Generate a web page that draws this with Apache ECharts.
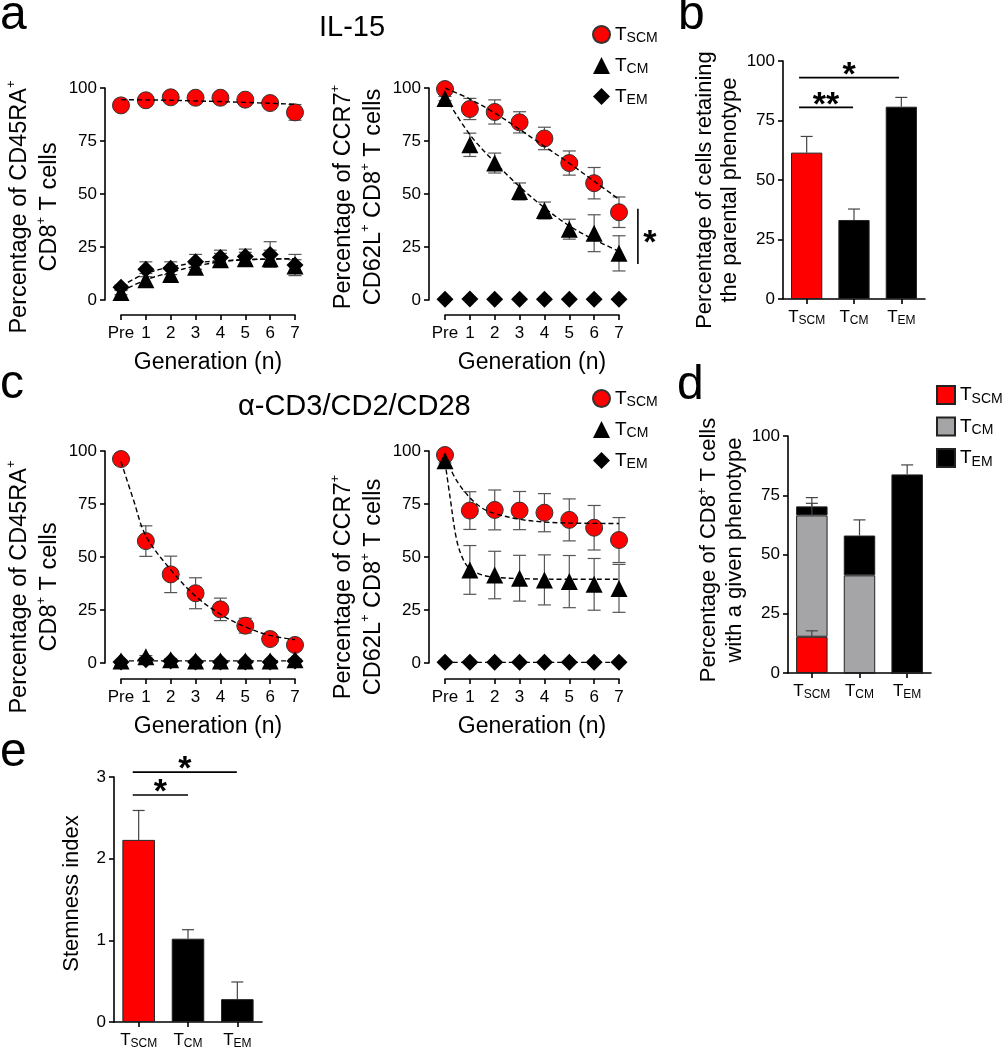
<!DOCTYPE html>
<html>
<head>
<meta charset="utf-8">
<title>Tscm phenotype</title>
<script src="https://cdn.jsdelivr.net/npm/echarts@6.0.0/dist/echarts.min.js"></script>
<style>
html, body { margin: 0; padding: 0; background: #fff; }
#main { width: 1008px; height: 1050px; }
</style>
</head>
<body>
<div id="main"></div>
<script>
var FONT = '"Liberation Sans", Arial, sans-serif';

// generation ticks
var gens = ['Pre', '1', '2', '3', '4', '5', '6', '7'];

// a, IL-15, CD45RA+ (left)
var aL_scm = [91.8, 94.2, 95.6, 95.4, 95.4, 94.5, 92.9, 88.5];
var aL_scmErr = [1, 1, 1, 1, 1, 1.2, 1.5, 3.7];
var aL_cm = [3.5, 9.5, 12, 15.5, 19, 19.5, 19.5, 16];
var aL_cmErr = [1, 3, 3, 3, 3, 3, 4, 3];
var aL_em = [6, 14.5, 15, 18, 20, 20.5, 21.5, 16.5];
var aL_emErr = [1, 3.5, 3, 3.5, 3.5, 3.5, 6, 5];
var aL_scmFit = [[0, 94.5], [1, 94.4], [2, 94.2], [3, 93.9], [4, 93.6], [5, 93.2], [6, 92.8], [7, 92.3]];
var aL_cmFit = [[0, 4], [1, 9.5], [2, 13], [3, 16], [4, 18], [5, 19], [6, 19.3], [7, 19.5]];
var aL_emFit = [[0, 6.5], [1, 12.5], [2, 15.5], [3, 17.5], [4, 18.5], [5, 19], [6, 19.3], [7, 19.5]];

// a, IL-15, CCR7+ CD62L+ (right)
var aR_scm = [99.5, 90.1, 88.7, 83.8, 76.2, 64.6, 55.1, 41.4];
var aR_scmErr = [0.5, 5, 5.7, 5, 5.3, 5.7, 7.4, 7.2];
var aR_cm = [95, 73.2, 64.6, 51.2, 42.2, 33.4, 31.5, 22];
var aR_cmErr = [1, 5.5, 4.7, 4, 4, 4.7, 8.7, 8.3];
var aR_em = [0.3, 0.5, 0.3, 0.4, 0.3, 0.3, 0.3, 0.3];
var aR_emErr = [0, 0, 0, 0, 0, 0, 0, 0];
var aR_scmFit = [[0, 100], [1, 94.8], [2, 88.2], [3, 80.5], [4, 72.5], [5, 64.5], [6, 56], [7, 47.5]];
var aR_cmFit = [[0, 96], [1, 78], [2, 65], [3, 53.5], [4, 43.5], [5, 35], [6, 28.5], [7, 23]];
var aR_sig = [[7.76, 17, 43]];

// c, a-CD3/CD2/CD28, CD45RA+ (left)
var cL_scm = [96.2, 57.5, 41.8, 32.9, 25.3, 17.6, 11.3, 8.5];
var cL_scmErr = [0.5, 7.2, 8.6, 7.3, 5.3, 3.5, 1.5, 1];
var cL_cm = [1, 3, 1.5, 1, 1, 1, 1, 1.5];
var cL_cmErr = [0, 0.5, 0.5, 0, 0, 0, 0, 0.5];
var cL_em = [0.5, 1.5, 1, 0.5, 0.5, 0.5, 0.5, 1];
var cL_emErr = [0, 0, 0, 0, 0, 0, 0, 0];
var cL_scmFit = [[0, 95], [0.5, 77], [1, 60], [2, 44], [3, 31.5], [4, 23], [5, 17], [6, 13], [7, 11]];
var cL_cmFit = [[0, 1], [1, 1], [2, 1], [3, 1], [4, 1], [5, 1], [6, 1], [7, 1]];

// c, a-CD3/CD2/CD28, CCR7+ CD62L+ (right)
var cR_scm = [98.1, 71.9, 72.2, 71.9, 70.9, 67.5, 63.8, 58];
var cR_scmErr = [0.5, 8.9, 9.4, 9, 9, 9.9, 10.5, 10.6];
var cR_cm = [95.4, 43.9, 41.5, 40, 39.2, 38.4, 37.1, 35.2];
var cR_cmErr = [1, 11.5, 11.2, 10.8, 11.8, 12.3, 12.2, 11.3];
var cR_em = [0.3, 0.3, 0.3, 0.3, 0.3, 0.3, 0.3, 0.3];
var cR_emErr = [0, 0, 0, 0, 0, 0, 0, 0];
var cR_scmFit = [[0, 97], [0.47, 86], [1, 78], [1.5, 73], [2, 70.5], [3, 67.8], [4, 66.5], [5, 66], [7, 65.8]];
var cR_cmFit = [[0, 95], [0.2, 78.5], [0.47, 58], [0.74, 48.6], [1, 44.5], [1.5, 41.5], [2, 40.5], [3, 39.8], [5, 39.5], [7, 39.5]];
var cR_emFit = [[0, 0.3], [7, 0.3]];

// bar panels
var cats = ['TSCM', 'TCM', 'TEM'];
var subs = { TSCM: 'SCM', TCM: 'CM', TEM: 'EM', dSCM: 'SCM', dCM: 'CM', dEM: 'EM' };
var bVals = [61.5, 33.2, 80.8];
var bErr = [6.8, 4.6, 3.9];
var bSig = [[-0.16, 1.95, 93], [-0.16, 0.98, 80.5]];
var bSigText = ['*', '**'];

var dSCM = [15.3, 0, 0];
var dCM = [51.2, 41.2, 0];
var dEM = [3.8, 16.8, 83.8];
var dSCMerr = [2.5, 0, 0];
var dCMerr = [5.1, 0, 0];
var dEMerr = [3.7, 6.6, 4.0];

var eVals = [2.23, 1.02, 0.28];
var eErr = [0.36, 0.11, 0.21];
var eSig = [[-0.12, 1.99, 3.06], [-0.12, 1.0, 2.78]];
var eSigText = ['*', '*'];

var RED = '#ff0000', GRAY = '#a5a5a8', BLACK = '#000';
var barColors = [RED, BLACK, BLACK];

function pts(vals) { return vals.map(function (v, i) { return [i, v]; }); }
function errs(vals, e) { return vals.map(function (v, i) { return [i, v - e[i], v + e[i]]; }); }
function sub(name) { return '{t|T}{s|' + subs[name] + '}'; }

function renderErr(params, api) {
  var lo = api.coord([api.value(0), api.value(1)]);
  var hi = api.coord([api.value(0), api.value(2)]);
  if (Math.abs(hi[1] - lo[1]) < 0.5) return null;
  var w = 6.5, st = { stroke: '#555', lineWidth: 1.2 };
  return { type: 'group', children: [
    { type: 'line', shape: { x1: lo[0], y1: lo[1], x2: hi[0], y2: hi[1] }, style: st },
    { type: 'line', shape: { x1: lo[0] - w, y1: lo[1], x2: lo[0] + w, y2: lo[1] }, style: st },
    { type: 'line', shape: { x1: hi[0] - w, y1: hi[1], x2: hi[0] + w, y2: hi[1] }, style: st }
  ] };
}
function renderErrUp(params, api) {
  var lo = api.coord([api.value(0), api.value(1)]);
  var hi = api.coord([api.value(0), api.value(2)]);
  var w = 6, st = { stroke: '#444', lineWidth: 1.2 };
  return { type: 'group', children: [
    { type: 'line', shape: { x1: lo[0], y1: lo[1], x2: hi[0], y2: hi[1] }, style: st },
    { type: 'line', shape: { x1: hi[0] - w, y1: hi[1], x2: hi[0] + w, y2: hi[1] }, style: st }
  ] };
}
function starFont() { return 'bold 34px ' + FONT; }
function renderSig(texts) {
  return function (params, api) {
    var a = api.coord([api.value(0), api.value(2)]);
    var b = api.coord([api.value(1), api.value(2)]);
    return { type: 'group', children: [
      { type: 'line', shape: { x1: a[0], y1: a[1], x2: b[0], y2: b[1] }, style: { stroke: '#000', lineWidth: 1.6 } },
      { type: 'text', x: (a[0] + b[0]) / 2, y: a[1] - 2,
        style: { text: texts[params.dataIndex], fill: '#000', font: starFont(), align: 'center', verticalAlign: 'middle' } }
    ] };
  };
}
function renderVSig(params, api) {
  var a = api.coord([api.value(0), api.value(1)]);
  var b = api.coord([api.value(0), api.value(2)]);
  return { type: 'group', children: [
    { type: 'line', shape: { x1: a[0], y1: a[1], x2: b[0], y2: b[1] }, style: { stroke: '#000', lineWidth: 1.6 } },
    { type: 'text', x: a[0] + 12, y: (a[1] + b[1]) / 2 + 7.5,
      style: { text: '*', fill: '#000', font: starFont(), align: 'center', verticalAlign: 'middle' } }
  ] };
}

var symbols = {
  TSCM: { symbol: 'circle', itemStyle: { color: RED, borderColor: '#333', borderWidth: 1, opacity: 1 } },
  TCM: { symbol: 'triangle', itemStyle: { color: BLACK, opacity: 1 } },
  TEM: { symbol: 'diamond', itemStyle: { color: BLACK, opacity: 1 } }
};

function genPanel(g, groups, fits) {
  var out = [];
  groups.forEach(function (gr) {
    out.push({ type: 'custom', xAxisIndex: g, yAxisIndex: g, renderItem: renderErr,
      data: errs(gr[1], gr[2]), encode: { x: 0, y: [1, 2] }, z: 1, silent: true, clip: false });
  });
  groups.forEach(function (gr) {
    out.push({ type: 'scatter', name: gr[0], xAxisIndex: g, yAxisIndex: g, data: pts(gr[1]),
      symbol: symbols[gr[0]].symbol, symbolSize: 17, itemStyle: symbols[gr[0]].itemStyle,
      z: 2, clip: false, silent: true });
  });
  fits.forEach(function (f) {
    out.push({ type: 'line', xAxisIndex: g, yAxisIndex: g, data: f, smooth: 0.35, symbol: 'none',
      lineStyle: { color: '#000', width: 1.4, type: [5, 3] }, z: 3, clip: false, silent: true });
  });
  return out;
}

var axisLine = { show: true, onZero: false, lineStyle: { color: '#000', width: 1.6 } };
var axisTick = { show: true, inside: false, length: 5, lineStyle: { color: '#000', width: 1.6 } };
var supRich = { sup: { fontSize: 13, lineHeight: 12, verticalAlign: 'top' } };
var subRich = { t: { fontSize: 17, lineHeight: 20 }, s: { fontSize: 12, lineHeight: 12, verticalAlign: 'bottom' } };

function genAxis(g, off) {
  return { gridIndex: g, type: 'value', min: 0, max: 7, interval: 1, offset: off,
    axisLine: axisLine, axisTick: axisTick, splitLine: { show: false },
    axisLabel: { color: '#000', fontSize: 17, fontFamily: FONT, margin: 10, hideOverlap: false,
      formatter: function (v) { return gens[v]; } },
    name: 'Generation (n)', nameLocation: 'middle', nameGap: 36,
    nameTextStyle: { color: '#000', fontSize: 23, fontFamily: FONT } };
}
function valAxis(g, max, step, off, name, fs, gap, lh, pad) {
  return { gridIndex: g, type: 'value', min: 0, max: max, interval: step, offset: off,
    axisLine: axisLine, axisTick: axisTick, splitLine: { show: false },
    axisLabel: { color: '#000', fontSize: 17, fontFamily: FONT, margin: 8, hideOverlap: false },
    name: name, nameLocation: 'middle', nameRotate: 90, nameGap: gap,
    nameTextStyle: { color: '#000', fontSize: fs, lineHeight: lh, fontFamily: FONT, padding: pad, rich: supRich } };
}
function catAxis(g) {
  return { gridIndex: g, type: 'category', data: cats,
    axisLine: axisLine, axisTick: { show: true, alignWithLabel: true, length: 5, lineStyle: { color: '#000', width: 1.6 } },
    axisLabel: { color: '#000', fontFamily: FONT, margin: 8, interval: 0, hideOverlap: false,
      formatter: function (v) { return sub(v); }, rich: subRich } };
}
function hiddenAxis(g) { return { gridIndex: g, type: 'value', min: -0.5, max: 2.5, show: false }; }

function letter(t, left, top) {
  return { text: t, left: left, top: top, padding: 0,
    textStyle: { fontSize: 48, fontWeight: 'normal', fontFamily: FONT, color: '#000' } };
}
function heading(t, left, top) {
  return { text: t, left: left, top: top, padding: 0,
    textStyle: { fontSize: 29, fontWeight: 'normal', fontFamily: FONT, color: '#000' } };
}
function legendAt(names, icons, left, top, size) {
  return { left: left, top: top, orient: 'vertical', padding: 0, itemGap: 10.5,
    itemWidth: size, itemHeight: size, selectedMode: false,
    data: names.map(function (n, i) { return { name: n, icon: icons[i] }; }),
    formatter: function (n) { return sub(n); },
    textStyle: { color: '#000', fontFamily: FONT,
      rich: { t: { fontSize: 19, lineHeight: 22 }, s: { fontSize: 14, lineHeight: 12, verticalAlign: 'bottom' } } } };
}

var series = [];
series = series.concat(genPanel(0,
  [['TSCM', aL_scm, aL_scmErr], ['TCM', aL_cm, aL_cmErr], ['TEM', aL_em, aL_emErr]],
  [aL_scmFit, aL_cmFit, aL_emFit]));
series = series.concat(genPanel(1,
  [['TSCM', aR_scm, aR_scmErr], ['TCM', aR_cm, aR_cmErr], ['TEM', aR_em, aR_emErr]],
  [aR_scmFit, aR_cmFit]));
series.push({ type: 'custom', xAxisIndex: 1, yAxisIndex: 1, renderItem: renderVSig, data: aR_sig,
  encode: { x: 0, y: [1, 2] }, clip: false, silent: true });
series = series.concat(genPanel(3,
  [['TSCM', cL_scm, cL_scmErr], ['TCM', cL_cm, cL_cmErr], ['TEM', cL_em, cL_emErr]],
  [cL_scmFit, cL_cmFit]));
series = series.concat(genPanel(4,
  [['TSCM', cR_scm, cR_scmErr], ['TCM', cR_cm, cR_cmErr], ['TEM', cR_em, cR_emErr]],
  [cR_scmFit, cR_cmFit, cR_emFit]));

// b
series.push({ type: 'bar', name: 'b', xAxisIndex: 2, yAxisIndex: 2, barWidth: '66%',
  data: bVals.map(function (v, i) { return { value: v, itemStyle: { color: barColors[i] } }; }),
  itemStyle: { borderColor: '#222', borderWidth: 1 }, silent: true });
series.push({ type: 'custom', xAxisIndex: 2, yAxisIndex: 2, renderItem: renderErrUp, z: 5, silent: true,
  data: bVals.map(function (v, i) { return [i, v, v + bErr[i]]; }), encode: { x: 0, y: [1, 2] } });
series.push({ type: 'custom', xAxisIndex: 7, yAxisIndex: 2, renderItem: renderSig(bSigText), clip: false,
  data: bSig, encode: { x: [0, 1], y: 2 }, silent: true });

// d (stacked)
var dStacks = [['dSCM', dSCM, dSCMerr, RED], ['dCM', dCM, dCMerr, GRAY], ['dEM', dEM, dEMerr, BLACK]];
var dErrData = [];
var cum = [0, 0, 0];
dStacks.forEach(function (s) {
  series.push({ type: 'bar', name: s[0], xAxisIndex: 5, yAxisIndex: 5, stack: 'd', barWidth: '66%',
    data: s[1], itemStyle: { color: s[3], borderColor: '#222', borderWidth: 1 }, silent: true });
  s[1].forEach(function (v, i) {
    cum[i] += v;
    if (s[2][i] > 0) dErrData.push([i, cum[i], cum[i] + s[2][i]]);
  });
});
series.push({ type: 'custom', xAxisIndex: 5, yAxisIndex: 5, renderItem: renderErrUp, z: 5, silent: true,
  data: dErrData, encode: { x: 0, y: [1, 2] } });

// e
series.push({ type: 'bar', name: 'e', xAxisIndex: 6, yAxisIndex: 6, barWidth: '66%',
  data: eVals.map(function (v, i) { return { value: v, itemStyle: { color: barColors[i] } }; }),
  itemStyle: { borderColor: '#222', borderWidth: 1 }, silent: true });
series.push({ type: 'custom', xAxisIndex: 6, yAxisIndex: 6, renderItem: renderErrUp, z: 5, silent: true,
  data: eVals.map(function (v, i) { return [i, v, v + eErr[i]]; }), encode: { x: 0, y: [1, 2] } });
series.push({ type: 'custom', xAxisIndex: 8, yAxisIndex: 6, renderItem: renderSig(eSigText), clip: false,
  data: eSig, encode: { x: [0, 1], y: 2 }, silent: true });

var option = {
  animation: false,
  backgroundColor: '#fff',
  textStyle: { fontFamily: FONT },
  title: [
    letter('a', 0, -8), letter('b', 678, -8), letter('c', 0, 361), letter('d', 677, 362), letter('e', 0, 729),
    heading('IL-15', 319, 13), heading('\u03b1-CD3/CD2/CD28', 238, 392)
  ],
  legend: [
    legendAt(['TSCM', 'TCM', 'TEM'], ['circle', 'triangle', 'diamond'], 592, 25, 17),
    legendAt(['TSCM', 'TCM', 'TEM'], ['circle', 'triangle', 'diamond'], 592, 389, 17),
    legendAt(['dSCM', 'dCM', 'dEM'], ['rect', 'rect', 'rect'], 936, 385, 18)
  ],
  grid: [
    { left: 121, top: 88, width: 174, height: 212 },
    { left: 445, top: 88, width: 174, height: 212 },
    { left: 783, top: 61, width: 142, height: 238 },
    { left: 121, top: 451, width: 174, height: 212 },
    { left: 445, top: 451, width: 174, height: 212 },
    { left: 788, top: 436, width: 143, height: 237 },
    { left: 114, top: 777, width: 148, height: 246 }
  ],
  xAxis: [
    genAxis(0, 15), genAxis(1, 15), catAxis(2), genAxis(3, 16), genAxis(4, 16), catAxis(5), catAxis(6),
    hiddenAxis(2), hiddenAxis(6)
  ],
  yAxis: [
    valAxis(0, 100, 25, 16, 'Percentage of CD45RA{sup|+}\nCD8{sup|+} T cells', 23.5, 34, 30, [0, 26, 0, 0]),
    valAxis(1, 100, 25, 16, 'Percentage of CCR7{sup|+}\nCD62L{sup|+} CD8{sup|+} T cells', 23.5, 34, 30, [0, 6, 0, 0]),
    valAxis(2, 100, 25, 0, 'Percentage of cells retaining\nthe parental phenotype', 22, 38, 25, [0, 20, 0, 0]),
    valAxis(3, 100, 25, 16, 'Percentage of CD45RA{sup|+}\nCD8{sup|+} T cells', 23.5, 34, 30, [0, 60, 0, 0]),
    valAxis(4, 100, 25, 16, 'Percentage of CCR7{sup|+}\nCD62L{sup|+} CD8{sup|+} T cells', 23.5, 34, 30, [0, 60, 0, 0]),
    valAxis(5, 100, 25, 0, 'Percentage of CD8{sup|+} T cells\nwith a given phenotype', 22, 34, 26, [0, 0, 0, 9]),
    valAxis(6, 3, 1, 0, 'Stemness index', 22, 29, 26, [0, 0, 0, 12])
  ],
  series: series
};

var chart = echarts.init(document.getElementById('main'), null, { renderer: 'canvas' });
chart.setOption(option);
</script>
</body>
</html>
